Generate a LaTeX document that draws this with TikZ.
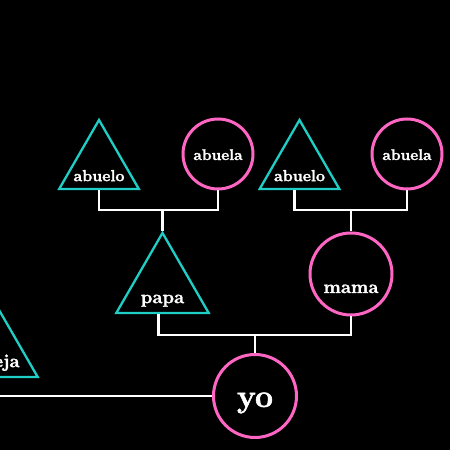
\documentclass[tikz,border=0pt]{standalone}
\usepackage{xcolor}
\usepackage{fontspec}
\setmainfont{Latin Modern Roman}[BoldFeatures={FakeBold=1.6}]
\usetikzlibrary{calc,shapes.geometric}
\definecolor{arbolteal}{HTML}{1FCFC7}
\definecolor{arbolrosa}{HTML}{FF66C4}
\definecolor{arbolnero}{HTML}{000000}
\newlength{\lato}
\setlength{\lato}{450pt}
\newcommand{\varon}[6]{
  % #1 = nome del nodo, #2 = centro, #3 = diametro del cerchio circoscritto,
  % #4 = testo, #5 = corpo in pt, #6 = altezza della linea di base sopra il lato
  \node[regular polygon, regular polygon sides=3, draw=arbolteal, line width=2.3pt,
        minimum size=#3, inner sep=0pt] (#1) at #2 {};
  \node[anchor=base, text=white, inner sep=0pt, font=\bfseries\fontsize{#5}{#5}\selectfont]
    (#1-testo) at ([yshift=#6]#1.side 2) {#4};
}
\newcommand{\mujer}[6]{
  % come \varon, ma cerchio rosa; #6 = spostamento della base rispetto al centro
  \node[circle, draw=arbolrosa, line width=3pt, minimum size=#3, inner sep=0pt] (#1) at #2 {};
  \node[anchor=base, text=white, inner sep=0pt, font=\bfseries\fontsize{#5}{#5}\selectfont]
    (#1-testo) at ([yshift=#6]#1.center) {#4};
}

\begin{document}
\begin{tikzpicture}[x=1pt,y=1pt, ramo/.style={draw=white, line width=2.2pt}]

  % ---- Sfondo nero, tagliato al quadrato ---------------------------------
  \useasboundingbox (0,0) rectangle (\lato,\lato);
  \fill[arbolnero] (0,0) rectangle (\lato,\lato);
  \clip (0,0) rectangle (\lato,\lato);

  % ---- Nonni ----------------------------------------------------------------
  \varon{abuelo1}{(99,284)}{92}{abuelo}{16}{9pt}
  \mujer{abuela1}{(218,296)}{70}{abuela}{15.5}{-6pt}
  \varon{abuelo2}{(299.5,284)}{92}{abuelo}{16}{9pt}
  \mujer{abuela2}{(407,296)}{70}{abuela}{15.5}{-6pt}

  % ---- Genitori -------------------------------------------------------------
  \varon{papa}{(162.5,163.7)}{106.7}{papa}{18.5}{11pt}
  \mujer{mama}{(351,176)}{82}{mama}{18.5}{-19pt}

  % ---- Io e la pareja (tagliata a sinistra) ---------------------------------
  \mujer{yo}{(255,54)}{83}{yo}{32}{-11pt}
  \varon{pareja}{(-8.5,99.7)}{106.7}{pareja}{18.5}{11pt}

  % ---- Rami -----------------------------------------------------------------
  % alcuni rami escono un po' a sinistra del centro del lato, come nell'originale
  \coordinate (j1) at (papa.corner 1 |- 0,240);
  \coordinate (j2) at (mama.north |- 0,240);
  \coordinate (j3) at (yo.north |- 0,115);

  \draw[ramo] (abuelo1.side 2) |- (j1) -| (abuela1.south);
  \draw[ramo] (j1) -- (papa.corner 1);
  \draw[ramo] ([xshift=-5pt]abuelo2.side 2) |- (j2) -| (abuela2.south);
  \draw[ramo] (j2) -- (mama.north);
  \draw[ramo] ([xshift=-4pt]papa.side 2) |- (j3) -| (mama.south);
  \draw[ramo] (j3) -- (yo.north);
  \draw[ramo] (yo.west) -- (yo.west -| pareja.side 2);

\end{tikzpicture}
\end{document}
